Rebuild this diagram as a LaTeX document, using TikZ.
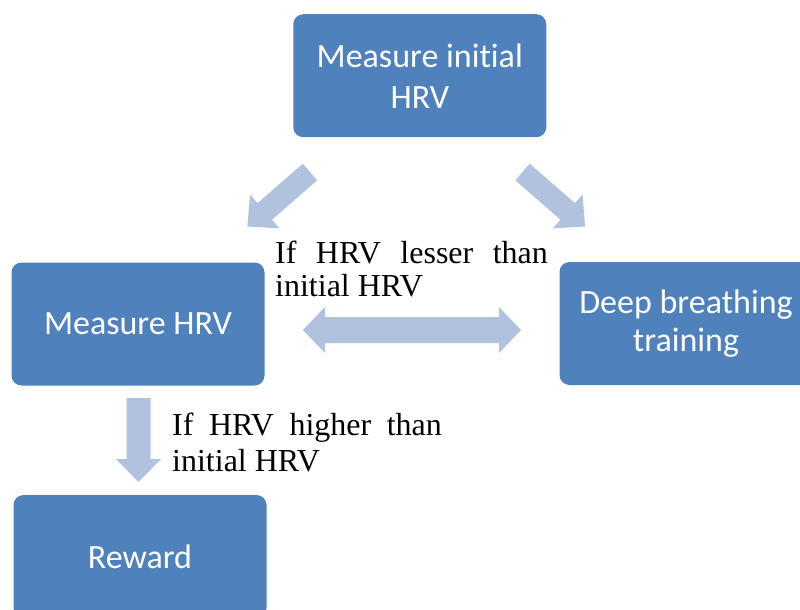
\documentclass[tikz,border=0pt]{standalone}
\usepackage{fontspec}
\setmainfont{Liberation Serif}
\newfontfamily\boxfont[Ligatures=NoCommon]{Carlito}
\definecolor{boxblue}{HTML}{4F81BD}
\definecolor{arrowblue}{HTML}{B0C2DE}
\begin{document}
\begin{tikzpicture}[x=1pt,y=-1pt,
  stagebox/.style={rectangle, rounded corners=10pt, fill=boxblue, draw=none,
    minimum width=253pt, minimum height=123pt, inner sep=0pt,
    text=white, align=center, font=\boxfont\fontsize{34}{41}\selectfont},
  blockarrow/.style={fill=arrowblue, draw=none},
  note/.style={anchor=base west, inner sep=0pt, font=\fontsize{32}{34}\selectfont}]
  \useasboundingbox (0,0) rectangle (800,610);
  \clip (0,0) rectangle (800,610);

  % process stages
  \node[stagebox] (init) at (419.8,75.7) {Measure initial\\HRV};
  \node[stagebox] (measure) at (138,324) {Measure HRV};
  \node[stagebox, font=\boxfont\fontsize{34}{38}\selectfont] (breath) at (686,323.5)
    {\raisebox{-2pt}{Deep breathing}\\\raisebox{-2pt}{training}};
  \node[stagebox] (reward) at (140,556.5) {Reward};

  % block arrows between the stages
  \fill[blockarrow] (317.2,180.3) -- (272.0,219.7) -- (279.6,228.4) -- (247.4,226.5)
    -- (250.0,194.4) -- (257.6,203.1) -- (302.8,163.7) -- cycle;
  \fill[blockarrow] (515.3,180.3) -- (560.5,219.7) -- (552.9,228.4) -- (585.1,226.5)
    -- (582.5,194.4) -- (574.9,203.1) -- (529.7,163.7) -- cycle;
  \fill[blockarrow] (303,330) -- (325,307) -- (325,317) -- (499,317) -- (499,307)
    -- (521,330) -- (499,353) -- (499,343) -- (325,343) -- (325,353) -- cycle;
  \fill[blockarrow] (126.5,398) -- (150.5,398) -- (150.5,459) -- (161,459)
    -- (138.5,482) -- (116,459) -- (126.5,459) -- cycle;

  % conditions
  \node[note] (lesser) at (275,263.3)
    {\vtop{\baselineskip=33.5pt\hbox to 272.7pt{If\hfill HRV\hfill lesser\hfill than}\hbox{initial HRV}}};
  \node[note] (higher) at (172,435)
    {\vtop{\baselineskip=36.7pt\hbox to 269.7pt{If\hfill HRV\hfill higher\hfill than}\hbox{initial HRV}}};
\end{tikzpicture}
\end{document}
